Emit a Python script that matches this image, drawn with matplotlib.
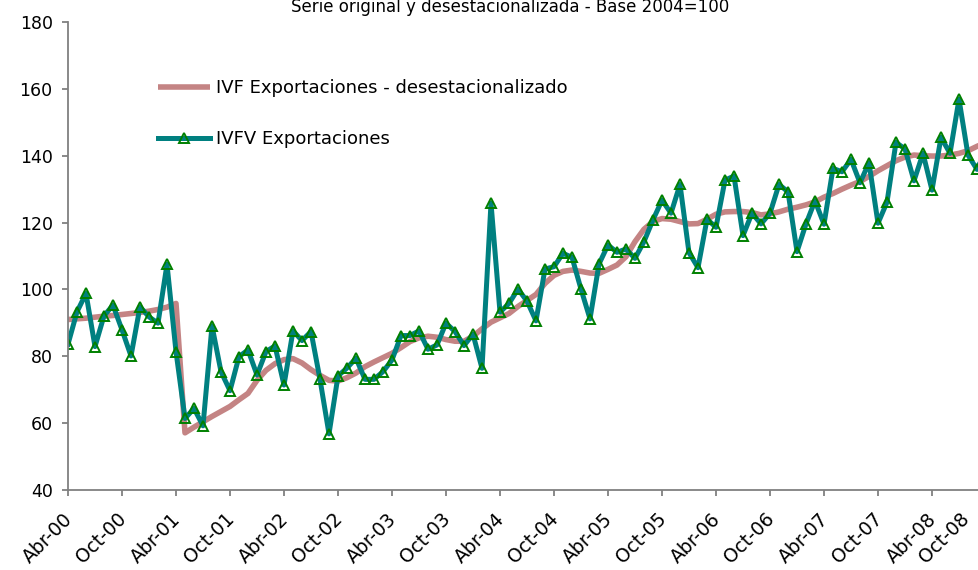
import matplotlib
matplotlib.use("Agg")
import matplotlib.pyplot as plt
from matplotlib.transforms import ScaledTranslation

# Serie mensual desde Abr-00
etiquetas = ["Abr-00", "Oct-00", "Abr-01", "Oct-01", "Abr-02", "Oct-02", "Abr-03", "Oct-03",
             "Abr-04", "Oct-04", "Abr-05", "Oct-05", "Abr-06", "Oct-06", "Abr-07", "Oct-07",
             "Abr-08", "Oct-08"]

ivfv_export = [83.6, 93.3, 98.8, 82.9, 92.1, 95.3, 87.9, 80.1, 94.8, 91.8, 89.9, 107.5,
               81.4, 61.4, 64.4, 59.2, 89.1, 75.4, 69.7, 79.9, 81.9, 74.4, 81.4, 83.1,
               71.4, 87.6, 84.7, 87.4, 73.1, 56.8, 74.1, 76.5, 79.4, 73.1, 73.1, 75.4,
               78.9, 86.2, 86.2, 87.6, 82.1, 83.4, 89.9, 87.4, 83.2, 86.6, 76.4, 125.8,
               93.2, 95.8, 100.1, 96.5, 90.6, 106.1, 106.8, 110.8, 109.6, 100.1, 91.2, 107.6,
               113.3, 111.1, 112.1, 109.3, 114.3, 120.8, 126.7, 122.8, 131.4, 111.0, 106.5, 121.0,
               118.6, 132.7, 133.9, 116.1, 122.8, 119.6, 122.8, 131.4, 129.2, 111.3, 119.6, 126.5,
               119.5, 136.2, 135.2, 138.9, 131.9, 137.9, 119.8, 126.1, 144.0, 142.0, 132.5, 140.7,
               129.7, 145.5, 140.7, 156.9, 140.2, 135.9, 142.0]

ivf_desest = [91.0, 91.2, 91.4, 91.7, 92.0, 92.2, 92.5, 92.8, 93.1, 93.5, 94.0, 94.7,
              95.8, 57.1, 58.8, 60.4, 62.0, 63.5, 65.0, 67.0, 68.9, 72.8, 75.8, 77.8,
              79.0, 79.3, 78.0, 76.0, 74.3, 72.8, 72.6, 73.6, 75.0, 76.9, 78.3, 79.6,
              80.9, 82.6, 84.4, 85.5, 86.0, 85.7, 85.0, 84.5, 84.5, 86.0, 88.2, 90.2,
              91.5, 92.8, 94.9, 96.7, 98.5, 101.8, 104.2, 105.4, 105.8, 105.4, 104.9, 104.8,
              106.0, 107.3, 109.8, 114.3, 118.0, 120.3, 121.2, 121.0, 120.3, 119.6, 119.7, 121.0,
              122.5, 123.2, 123.3, 123.3, 123.0, 122.3, 122.6, 123.2, 124.0, 124.6, 125.3, 126.2,
              127.6, 128.7, 130.0, 131.2, 132.3, 133.8, 135.5, 137.0, 138.5, 139.6, 140.2, 140.0,
              139.9, 139.9, 140.2, 140.7, 141.5, 142.8, 144.0]

meses = list(range(len(ivfv_export)))

fig = plt.figure(figsize=(9.79, 5.70), dpi=100)
# el eje se sale por la derecha, como en el original recortado
ax = fig.add_axes([68 / 979, 80 / 570, 103 * 9 / 979, 468 / 570])

ax.plot(meses, ivf_desest, color="#C48484", lw=4, solid_capstyle="butt",
        label="IVF Exportaciones - desestacionalizado")
ax.plot(meses, ivfv_export, color="#008080", lw=3.6, marker="^", markersize=6.5,
        markerfacecolor="none", markeredgecolor="#008000", markeredgewidth=1.4,
        label="IVFV Exportaciones")

ax.set_xlim(0, 103)
ax.set_ylim(40, 180)
ax.set_yticks(range(40, 181, 20))
ax.set_xticks(range(0, 103, 6))
ax.set_xticklabels(etiquetas, rotation=45, ha="right", rotation_mode="anchor", fontsize=13.5)

for s in ["top", "right"]:
    ax.spines[s].set_visible(False)
ax.spines["left"].set_color("#808080")
ax.spines["bottom"].set_color("#808080")
ax.spines["left"].set_linewidth(1.3)
ax.spines["bottom"].set_linewidth(1.3)
ax.tick_params(axis="both", colors="#808080", labelcolor="black",
               length=4, width=1.3)
ax.tick_params(axis="y", labelsize=12.5, pad=7)
ax.tick_params(axis="x", pad=10)

# correr un poco las etiquetas del eje x hacia la izquierda
# (la ultima mas, para que entre en la imagen)
ticks = ax.xaxis.get_major_ticks()
for i, t in enumerate(ticks):
    dx = -26 if i == len(ticks) - 1 else -5
    t.label1.set_transform(t.label1.get_transform()
                           + ScaledTranslation(dx / 100, 0, fig.dpi_scale_trans))

fig.text(0.521, 1 - 12 / 570, "Serie original y desestacionalizada - Base 2004=100",
         ha="center", va="baseline", fontsize=12)

fig.legend(loc="upper left", bbox_to_anchor=(158 / 979, 1 - 79 / 570), frameon=False,
           fontsize=13, handlelength=2.9, handletextpad=0.3, labelspacing=1.85,
           borderpad=0, borderaxespad=0)

plt.savefig("out.png", dpi=100)
